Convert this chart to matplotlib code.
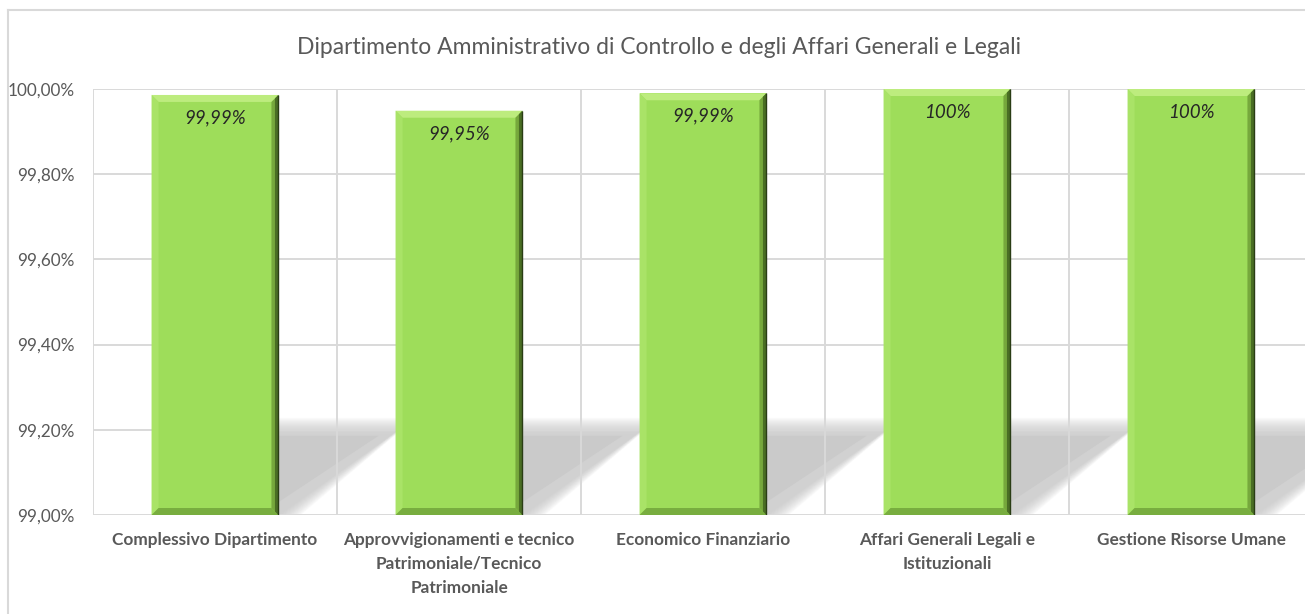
import matplotlib
matplotlib.use("Agg")
import matplotlib.pyplot as plt
from matplotlib.patches import Polygon
from matplotlib.lines import Line2D
from matplotlib.ticker import FuncFormatter

# ---------------- data ----------------
categories = [
    "Complessivo Dipartimento",
    "Approvvigionamenti e tecnico\nPatrimoniale/Tecnico\nPatrimoniale",
    "Economico Finanziario",
    "Affari Generali Legali e\nIstituzionali",
    "Gestione Risorse Umane",
]
values = [99.986, 99.949, 99.990, 100.0, 100.0]
value_labels = ["99,99%", "99,95%", "99,99%", "100%", "100%"]
title = "Dipartimento Amministrativo di Controllo e degli Affari Generali e Legali"
y_ticks = [99.0, 99.2, 99.4, 99.6, 99.8, 100.0]
y_min, y_max = 99.0, 100.0

# ---------------- style ----------------
plt.rcParams['font.family'] = ['Lato', 'DejaVu Sans']
W, H = 1305, 614
GRID = '#d9d9d9'
TXT = '#595959'

fig = plt.figure(figsize=(W / 100, H / 100), dpi=100)
ax = fig.add_axes([93 / W, 1 - 515 / H, 1220 / W, 426 / H])
n = len(categories)
ax.set_xlim(-0.5, n - 0.5)
ax.set_ylim(y_min, y_max)

# pixel sizes in data units
px = (n) / 1220.0
py = (y_max - y_min) / 426.0

# grid
for yt in y_ticks:
    ax.axhline(yt, color=GRID, lw=1.4, zorder=2)
for b in range(n + 1):
    ax.axvline(b - 0.5, color=GRID, lw=1.4, zorder=2)

bw = 0.52
xs = list(range(n))

# shadows (floor shadow to the right of each bar)
shadow_h = 0.2
shadow_w = 0.47
for i in xs:
    xr = i + bw / 2
    base = y_min
    for s in range(16, -1, -1):
        sx = 1.4 * s * px
        sy = s * py
        poly = Polygon([(xr, base), (xr, base + shadow_h + sy - 4 * py),
                        (xr + shadow_w + sx, base + shadow_h + sy - 4 * py),
                        (xr + sx, base)],
                       closed=True, facecolor='#c6c6c6', edgecolor='none',
                       alpha=0.075, zorder=1)
        ax.add_patch(poly)
    core = Polygon([(xr, base), (xr, base + shadow_h - 6 * py),
                    (xr + shadow_w - 0.06, base + shadow_h - 6 * py),
                    (xr, base + 0.03)],
                   closed=True, facecolor='#cacaca', edgecolor='none', zorder=1)
    ax.add_patch(core)

# bars
bars = ax.bar(xs, [v - y_min for v in values], bottom=y_min, width=bw,
              color='#9edd5a', edgecolor='none', zorder=3)

# bevel
bx, by = 7 * px, 7 * py
for i, v in zip(xs, values):
    l, r, t, bt = i - bw / 2, i + bw / 2, v, y_min
    ax.add_patch(Polygon([(l, t), (r, t), (r - bx, t - by), (l + bx, t - by)],
                         facecolor='#bdec7e', edgecolor='none', zorder=4))
    ax.add_patch(Polygon([(l, t), (l + bx, t - by), (l + bx, bt + by), (l, bt)],
                         facecolor='#a9e367', edgecolor='none', zorder=4))
    ax.add_patch(Polygon([(l, bt), (r, bt), (r - bx, bt + by), (l + bx, bt + by)],
                         facecolor='#78ad3f', edgecolor='none', zorder=4))
    ax.add_patch(Polygon([(r, t), (r, bt), (r - bx, bt + by), (r - bx, t - by)],
                         facecolor='#76a83c', edgecolor='none', zorder=4))
    bx2, by2 = 3.5 * px, 3.5 * py
    ax.add_patch(Polygon([(r, t), (r, bt), (r - bx2, bt + by2), (r - bx2, t - by2)],
                         facecolor='#4a6e24', edgecolor='none', zorder=4))
    ax.plot([r - 0.5 * px, r - 0.5 * px], [bt, t], color='#2a3d15', lw=1.0,
            zorder=5, solid_capstyle='butt')

# value labels
for i, v, lab in zip(xs, values, value_labels):
    ax.annotate(lab, xy=(i, v), xytext=(0, -23), textcoords='offset pixels',
                ha='center', va='center', fontsize=13.5, style='italic',
                color='#262626', zorder=6)

# axes formatting
for sp in ax.spines.values():
    sp.set_visible(False)
ax.set_yticks(y_ticks)
ax.yaxis.set_major_formatter(FuncFormatter(lambda y, p: f"{y:.2f}".replace('.', ',') + "%"))
ax.set_xticks(xs)
ax.set_xticklabels(categories, fontsize=12.4, fontweight='bold', color=TXT,
                   linespacing=1.63, va='top')
ax.tick_params(axis='y', length=0, pad=13, labelsize=12.3, labelcolor=TXT)
ax.tick_params(axis='x', length=0, pad=12)

# title
fig.text(659 / W, 1 - 47 / H, title, ha='center', va='center',
         fontsize=16.5, color=TXT)

# chart border
fig.add_artist(Line2D([8 / W, 8 / W], [0, 1 - 10 / H], color=GRID, lw=1.5,
                      transform=fig.transFigure))
fig.add_artist(Line2D([8 / W, 1], [1 - 10 / H, 1 - 10 / H], color=GRID, lw=1.5,
                      transform=fig.transFigure))

fig.savefig('out.png', dpi=100, facecolor='white')
